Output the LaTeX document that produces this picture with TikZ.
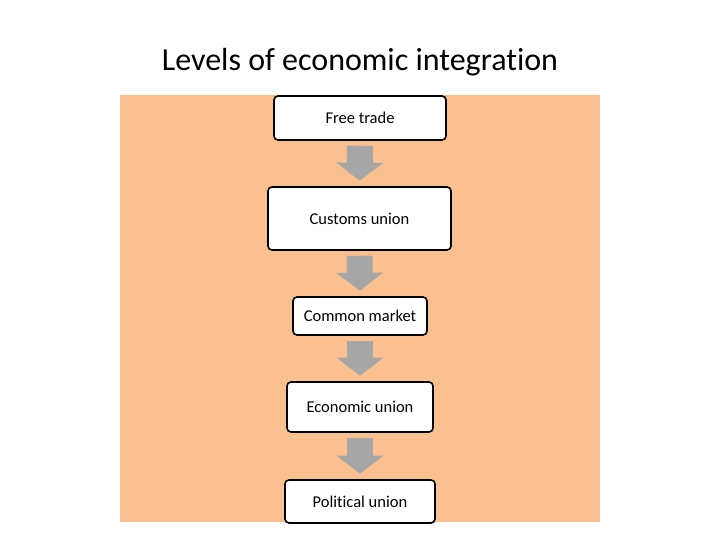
\documentclass[tikz,border=0pt]{standalone}
\usepackage{fontspec}
\setmainfont{Carlito}[Ligatures=NoCommon]
\usetikzlibrary{arrows.meta}
\definecolor{bgorange}{HTML}{FAC090}
\definecolor{arrgray}{HTML}{A6A6A6}
\begin{document}
\begin{tikzpicture}[x=1pt,y=-1pt,
  levelbox/.style={draw=black, line width=1.6pt, fill=white, rounded corners=4pt,
    inner sep=0pt, align=center, font=\fontsize{16.5}{20}\selectfont},
  blockarrow/.style={draw=arrgray, line width=26pt,
    -{Triangle[width=46pt,length=18pt]}, shorten <=5pt, shorten >=5.5pt}]
\useasboundingbox (0,0) rectangle (720,540);
\fill[white] (0,0) rectangle (720,540);
\node[font=\fontsize{32}{38}\selectfont] (title) at (360,62) {Levels of economic integration};
\fill[bgorange] (120,95) rectangle (600,522);
\node[levelbox, minimum width=172pt, minimum height=44pt] (b1) at (360,118) {Free trade};
\node[levelbox, minimum width=183pt, minimum height=63pt] (b2) at (359.5,218.5) {Customs union};
\node[levelbox, minimum width=134pt, minimum height=38pt] (b3) at (360,316) {Common market};
\node[levelbox, minimum width=146pt, minimum height=50pt] (b4) at (360,407) {Economic union};
\node[levelbox, minimum width=150pt, minimum height=43pt] (b5) at (360,501.5) {Political union};
\draw[blockarrow] (b1.south) -- (b2.north);
\draw[blockarrow] (b2.south) -- (b3.north);
\draw[blockarrow] (b3.south) -- (b4.north);
\draw[blockarrow] (b4.south) -- (b5.north);
\end{tikzpicture}
\end{document}
